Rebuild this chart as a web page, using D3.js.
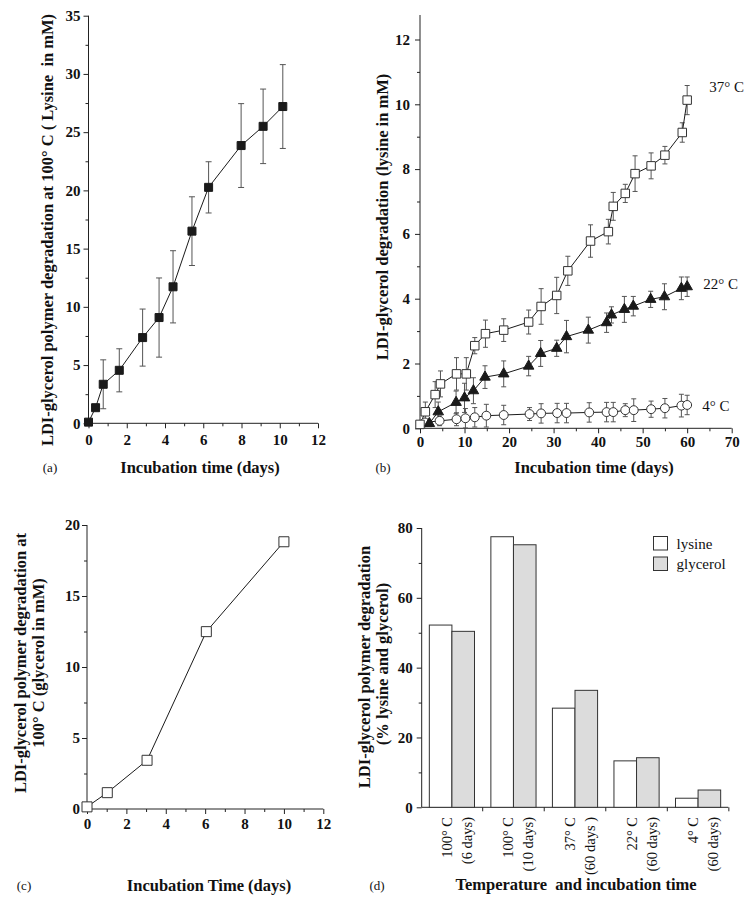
<!DOCTYPE html>
<html><head><meta charset="utf-8">
<script src="https://cdn.jsdelivr.net/npm/d3@7"></script>
<style>
body{margin:0;background:#fff;}
svg{display:block;font-family:"Liberation Serif","Times New Roman",serif;}
</style></head><body>
<svg id="chart" width="751" height="903"></svg>
<script>
// ---------- Panel (a): lysine at 100 °C ----------
const aDays = [0, 0.37, 0.77, 1.61, 2.83, 3.69, 4.42, 5.41, 6.28, 7.98, 9.13, 10.16];
const aVals = [0.1, 1.34, 3.35, 4.55, 7.36, 9.08, 11.72, 16.5, 20.26, 23.85, 25.5, 27.2];
const aErr  = [0, 0, 2.1, 1.85, 2.45, 3.4, 3.1, 2.95, 2.2, 3.6, 3.2, 3.6];
const aYTicks = [0, 5, 10, 15, 20, 25, 30, 35];
const aXTicks = [0, 2, 4, 6, 8, 10, 12];

// ---------- Panel (b): lysine at 37, 22, 4 °C ----------
const b37Days = [0, 1.2, 3.4, 4.6, 8.2, 10.4, 12.3, 14.7, 18.8, 24.4, 27.2, 30.7, 33.2, 38.3, 42.3, 43.4, 46.1, 48.3, 51.9, 55.0, 58.9, 60.0];
const b37Vals = [0.12, 0.51, 1.04, 1.37, 1.68, 1.68, 2.55, 2.92, 3.03, 3.28, 3.76, 4.1, 4.86, 5.78, 6.07, 6.85, 7.25, 7.86, 8.1, 8.43, 9.13, 10.13];
const b37Err  = [0, 0.3, 0.4, 0.4, 0.5, 0.5, 0.25, 0.42, 0.35, 0.37, 0.55, 0.56, 0.45, 0.5, 0.38, 0.43, 0.28, 0.55, 0.4, 0.27, 0.3, 0.45];
const b22Days = [2.1, 4.1, 8.1, 10.0, 12.0, 14.6, 18.8, 24.4, 27.1, 30.7, 32.9, 37.8, 41.9, 43.0, 45.9, 47.9, 51.8, 54.9, 58.7, 60.0];
const b22Vals = [0.15, 0.51, 0.8, 0.94, 1.16, 1.58, 1.68, 1.92, 2.31, 2.47, 2.83, 3.03, 3.26, 3.5, 3.67, 3.77, 3.98, 4.06, 4.32, 4.37];
const b22Err  = [0.1, 0.3, 0.35, 0.45, 0.4, 0.35, 0.4, 0.3, 0.4, 0.25, 0.5, 0.4, 0.3, 0.25, 0.4, 0.3, 0.25, 0.4, 0.35, 0.3];
const b4Days  = [1.1, 4.4, 8.2, 10.2, 12.3, 14.9, 18.8, 24.6, 27.2, 30.8, 32.9, 38.0, 41.9, 43.4, 46.1, 48.0, 51.9, 55.0, 58.7, 60.0];
const b4Vals  = [0.18, 0.23, 0.28, 0.31, 0.34, 0.39, 0.41, 0.44, 0.46, 0.47, 0.47, 0.49, 0.5, 0.5, 0.56, 0.56, 0.59, 0.62, 0.7, 0.72];
const b4Err   = [0.1, 0.15, 0.2, 0.3, 0.3, 0.35, 0.3, 0.2, 0.3, 0.3, 0.3, 0.3, 0.3, 0.3, 0.2, 0.35, 0.25, 0.3, 0.35, 0.3];
const bSeriesLabels = ["37° C", "22° C", "4° C"];
const bYTicks = [0, 2, 4, 6, 8, 10, 12];
const bXTicks = [0, 10, 20, 30, 40, 50, 60, 70];

// ---------- Panel (c): glycerol at 100 °C ----------
const cDays = [0, 1.03, 3.05, 6.06, 10.0];
const cVals = [0.15, 1.15, 3.43, 12.49, 18.82];
const cYTicks = [0, 5, 10, 15, 20];
const cXTicks = [0, 2, 4, 6, 8, 10, 12];

// ---------- Panel (d): % degradation ----------
const dTemps = ["100° C", "100° C", "37° C", "22° C", "4° C"];
const dTimes = ["(6 days)", "(10 days)", "(60 days )", "(60 days)", "(60 days)"];
const dLysine   = [52.2, 77.5, 28.4, 13.3, 2.6];
const dGlycerol = [50.4, 75.2, 33.5, 14.2, 4.95];
const dSeries = ["lysine", "glycerol"];
const dYTicks = [0, 20, 40, 60, 80];

const svg = d3.select("#chart");
const INK = "#1a1a1a";
const ERR = "#555";
const SERIF = '"Liberation Serif","Times New Roman",serif';

function axisPair(g, scale, orient, major, minor, pad, transform) {
  const mk = orient === "left" ? d3.axisLeft : d3.axisBottom;
  const m = g.append("g").attr("transform", transform)
    .call(mk(scale).tickValues(minor).tickSize(3).tickFormat(""));
  m.select(".domain").remove();
  m.selectAll("line").attr("stroke", "#222");
  const ax = g.append("g").attr("transform", transform)
    .call(mk(scale).tickValues(major).tickSize(5).tickSizeOuter(0).tickPadding(pad).tickFormat(d3.format("d")));
  ax.select(".domain").remove();
  ax.selectAll("line").attr("stroke", "#222");
  ax.attr("font-family", null).attr("font-size", null);
  ax.selectAll("text").style("font-family", SERIF).style("font-weight", "bold")
    .style("font-size", "15px").attr("fill", "#111");
  return ax;
}
function label(x, y, txt, opts = {}) {
  const t = svg.append("text").attr("x", x).attr("y", y)
    .attr("text-anchor", opts.anchor || "middle")
    .attr("dominant-baseline", "central")
    .style("font-family", SERIF)
    .style("font-size", (opts.size || 16.5) + "px")
    .style("font-weight", opts.weight || "bold")
    .style("white-space", "pre")
    .attr("fill", "#111").text(txt);
  if (opts.rotate) t.attr("transform", `rotate(-90 ${x} ${y})`);
  return t;
}
function errorBars(g, xs, ys, es, x, y, cap) {
  const d = d3.range(xs.length).filter(i => es[i] > 0);
  g.selectAll(null).data(d).join("path")
    .attr("d", i => {
      const cx = x(xs[i]), t = y(ys[i] + es[i]), b = y(ys[i] - es[i]);
      return `M${cx},${t}V${b}M${cx - cap},${t}H${cx + cap}M${cx - cap},${b}H${cx + cap}`;
    })
    .attr("fill", "none").attr("stroke", ERR).attr("stroke-width", 1);
}
function seriesLine(g, xs, ys, x, y) {
  g.append("path").datum(d3.range(xs.length))
    .attr("d", d3.line().x(i => x(xs[i])).y(i => y(ys[i])))
    .attr("fill", "none").attr("stroke", INK).attr("stroke-width", 1);
}
function markers(g, xs, ys, x, y, symType, size, fill) {
  g.selectAll(null).data(d3.range(xs.length)).join("path")
    .attr("transform", i => `translate(${x(xs[i])},${y(ys[i])})`)
    .attr("d", d3.symbol().type(symType).size(size))
    .attr("fill", fill).attr("stroke", fill === "#fff" ? "#333" : INK).attr("stroke-width", 1);
}
const range = (a, b, s) => d3.range(a, b + 1e-9, s);
function frame(g, x0, x1, y0, y1) {
  g.append("line").attr("x1", x0).attr("x2", x0).attr("y1", y0).attr("y2", y1).attr("stroke", "#222");
  g.append("line").attr("x1", x0).attr("x2", x1).attr("y1", y0).attr("y2", y0).attr("stroke", "#222");
}

// ===== Panel a =====
{
  const g = svg.append("g");
  const x = d3.scaleLinear().domain([0, 12]).range([88.5, 318]);
  const y = d3.scaleLinear().domain([0, 35]).range([423.3, 15.7]);
  frame(g, 88.5, x(12), y(0), y(35));
  axisPair(g, y, "left", aYTicks, range(2.5, 32.5, 5), 3, "translate(88.5,0)");
  axisPair(g, x, "bottom", aXTicks, range(1, 11, 2), 6, `translate(0,${y(0)})`);
  errorBars(g, aDays, aVals, aErr, x, y, 3);
  seriesLine(g, aDays, aVals, x, y);
  markers(g, aDays, aVals, x, y, d3.symbolSquare, 64, INK);
  label(47, 230, "LDI-glycerol polymer degradation at 100° C ( Lysine  in mM)", {rotate: true});
  label(200, 467, "Incubation time (days)");
  label(50, 467, "(a)", {weight: "normal", size: 13});
}

// ===== Panel b =====
{
  const g = svg.append("g");
  const x = d3.scaleLinear().domain([0, 70]).range([420, 731.7]);
  const y = d3.scaleLinear().domain([0, 12]).range([428.3, 39.5]);
  frame(g, 420, x(70), y(0), 15);
  axisPair(g, y, "left", bYTicks, range(1, 11, 2), 5, "translate(420,0)");
  axisPair(g, x, "bottom", bXTicks, range(5, 65, 10), 3, `translate(0,${y(0)})`);
  errorBars(g, b4Days, b4Vals, b4Err, x, y, 2.5);
  errorBars(g, b22Days, b22Vals, b22Err, x, y, 2.5);
  errorBars(g, b37Days, b37Vals, b37Err, x, y, 2.5);
  seriesLine(g, b4Days, b4Vals, x, y);
  seriesLine(g, b22Days, b22Vals, x, y);
  seriesLine(g, b37Days, b37Vals, x, y);
  markers(g, b4Days, b4Vals, x, y, d3.symbolCircle, 62, "#fff");
  markers(g, b22Days, b22Vals, x, y, d3.symbolTriangle, 48, INK);
  markers(g, b37Days, b37Vals, x, y, d3.symbolSquare, 72, "#fff");
  const ends = [[b37Days, b37Vals], [b22Days, b22Vals], [b4Days, b4Vals]];
  const offs = [[22, -13], [16, -3], [15, 1]];
  bSeriesLabels.forEach((t, k) => {
    const xs = ends[k][0], ys = ends[k][1], n = xs.length - 1;
    label(x(xs[n]) + offs[k][0], y(ys[n]) + offs[k][1], t, {anchor: "start", weight: "normal", size: 15});
  });
  label(382, 217, "LDI-glycerol degradation (lysine in mM)", {rotate: true});
  label(594, 467, "Incubation time (days)");
  label(383, 467, "(b)", {weight: "normal", size: 13});
}

// ===== Panel c =====
{
  const g = svg.append("g");
  const x = d3.scaleLinear().domain([0, 12]).range([87, 323.3]);
  const y = d3.scaleLinear().domain([0, 20]).range([809, 525]);
  frame(g, 87, x(12), y(0), y(20));
  axisPair(g, y, "left", cYTicks, range(2.5, 17.5, 5), 2, "translate(87,0)");
  axisPair(g, x, "bottom", cXTicks, range(1, 11, 2), 4, `translate(0,${y(0)})`);
  seriesLine(g, cDays, cVals, x, y);
  markers(g, cDays, cVals, x, y, d3.symbolSquare, 100, "#fff");
  label(20, 663, "LDI-glycerol polymer degradation at", {rotate: true});
  label(38, 663, "100° C (glycerol in mM)", {rotate: true});
  label(209, 885, "Incubation Time (days)");
  label(24, 885, "(c)", {weight: "normal", size: 13});
}

// ===== Panel d =====
{
  const g = svg.append("g");
  const x0 = d3.scaleBand().domain(d3.range(dTemps.length)).range([421.7, 728.3]).paddingInner(0.266).paddingOuter(0.124);
  const x1 = d3.scaleBand().domain(dSeries).range([0, x0.bandwidth()]);
  const y = d3.scaleLinear().domain([0, 80]).range([807.3, 528]);
  const vals = {lysine: dLysine, glycerol: dGlycerol};
  const fills = {lysine: "#fff", glycerol: "#dcdcdc"};
  frame(g, 421.7, 728.3, y(0), y(80));
  axisPair(g, y, "left", dYTicks, range(10, 70, 20), 4, "translate(421.7,0)");
  const step = x0.step();
  const bounds = d3.range(dTemps.length).map(i => x0(i) + x0.bandwidth() + (step - x0.bandwidth()) / 2);
  g.selectAll(null).data(bounds).join("line")
    .attr("x1", d => d).attr("x2", d => d).attr("y1", y(0)).attr("y2", y(0) + 4).attr("stroke", "#222");
  dSeries.forEach(s => {
    g.selectAll(null).data(d3.range(dTemps.length)).join("rect")
      .attr("x", i => x0(i) + x1(s)).attr("width", x1.bandwidth())
      .attr("y", i => y(vals[s][i])).attr("height", i => y(0) - y(vals[s][i]))
      .attr("fill", fills[s]).attr("stroke", "#333").attr("stroke-width", 1);
  });
  d3.range(dTemps.length).forEach(i => {
    const c = x0(i) + x0.bandwidth() / 2;
    [[dTemps[i], -5], [dTimes[i], 15]].forEach(([t, off]) => {
      svg.append("text").attr("transform", `translate(${c + off},817) rotate(-90)`)
        .attr("text-anchor", "end").attr("dominant-baseline", "central")
        .style("font-family", SERIF).style("white-space", "pre")
        .style("font-size", "14.5px").attr("fill", "#111").text(t);
    });
  });
  dSeries.forEach((s, k) => {
    svg.append("rect").attr("x", 653.5).attr("y", 536.5 + k * 20.5).attr("width", 14).attr("height", 13.5)
      .attr("fill", fills[s]).attr("stroke", "#333");
    label(676.5, 543.5 + k * 20.5, s, {anchor: "start", weight: "normal", size: 15});
  });
  label(364, 667, "LDI-glycerol polymer degradation", {rotate: true});
  label(382, 664, "(% lysine and glycerol)", {rotate: true});
  label(576, 884, "Temperature  and incubation time");
  label(377, 885, "(d)", {weight: "normal", size: 13});
}
</script></body></html>
